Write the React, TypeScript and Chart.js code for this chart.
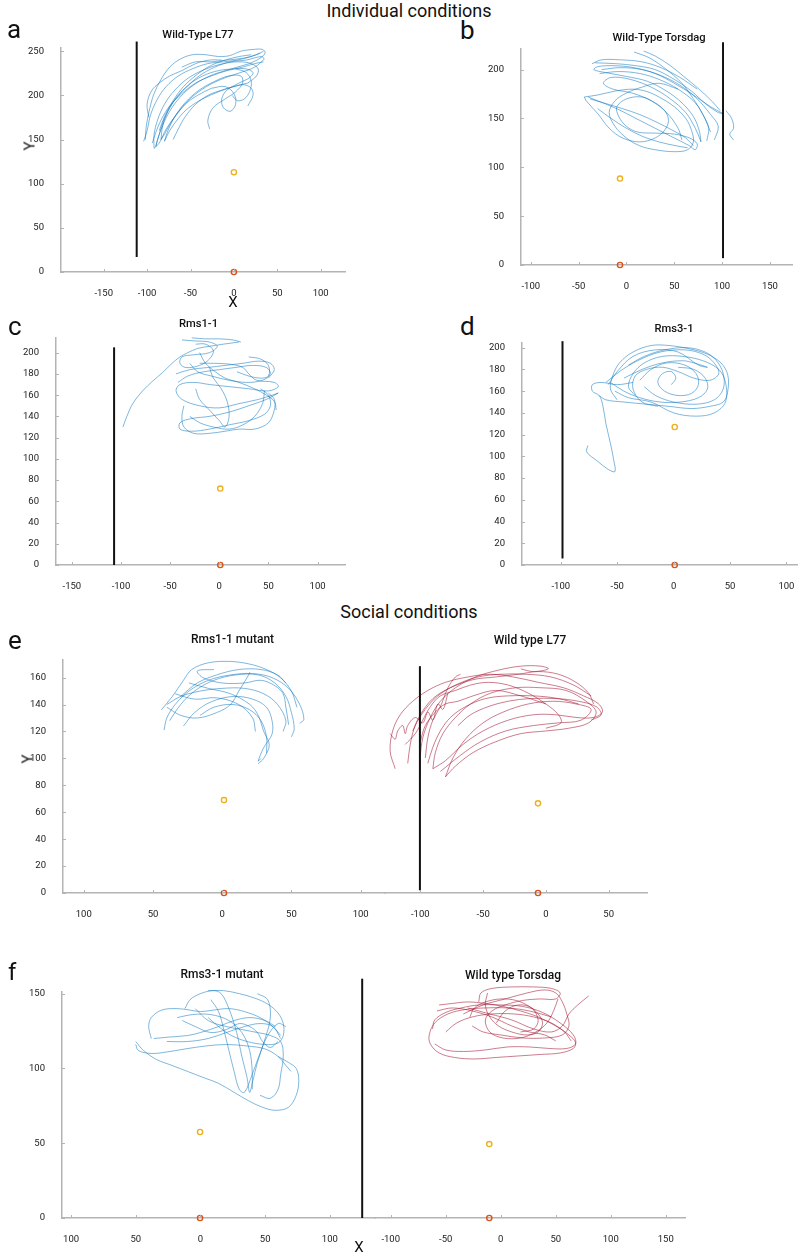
import React, { useEffect, useRef } from "react";
import { Chart, registerables } from "chart.js";

Chart.register(...registerables);

// ---------- tracked tip positions: flat [x, y, x, y, ...] lists, one per stroke ----------

const wtL77Tracks: number[][] = [
  [-102, 150, -101, 165, -97, 185, -92, 202, -84, 218, -74, 232, -62, 241, -48, 246, -32, 246, -18, 244, -5, 245, 8, 250, 22, 252, 33, 252, 36, 248, 30, 242, 18, 236],
  [18, 236, 4, 232, -10, 228, -28, 222, -46, 212, -62, 198, -74, 182, -82, 166, -88, 150, -90, 142],
  [-90, 142, -86, 156, -80, 174, -70, 192, -56, 208, -40, 222, -22, 232, -4, 238, 14, 240, 32, 244, 35, 241],
  [35, 241, 24, 232, 8, 226, -10, 220, -28, 212, -46, 200, -60, 186, -72, 170, -80, 156, -84, 150],
  [-84, 150, -82, 166, -76, 182, -66, 198, -52, 212, -36, 222, -18, 228, 0, 230, 14, 230, 22, 226, 18, 220, 6, 214, -8, 206, -14, 196, -12, 186, -4, 182, 2, 190, 0, 202, -10, 210, -26, 208],
  [-26, 208, -42, 200, -56, 190, -68, 176, -78, 162, -86, 146, -92, 140],
  [-92, 140, -92, 155, -88, 172, -80, 190, -68, 206, -52, 220, -32, 230, -12, 236, 6, 238, 20, 236, 28, 230, 26, 222, 16, 214],
  [16, 214, 0, 210, -18, 204, -36, 196, -52, 186, -64, 174, -74, 160, -80, 148],
  [-80, 148, -76, 160, -68, 176, -56, 192, -40, 206, -22, 216, -6, 222, 8, 222, 10, 214, 2, 204, -10, 196, -24, 186, -30, 172, -28, 162],
  [-98, 175, -100, 190, -95, 205, -86, 214, -74, 222, -60, 228, -44, 236, -28, 240, -14, 240],
  [-60, 232, -44, 238, -26, 238, -8, 240, 10, 242, 26, 246, 34, 250],
  [-104, 148, -100, 160, -96, 178, -88, 196, -78, 210, -64, 222, -48, 230, -30, 236, -12, 238, 4, 240, 20, 244, 30, 248],
  [-94, 146, -90, 158, -84, 172, -74, 188, -60, 202, -44, 214, -26, 222, -8, 228, 10, 232, 24, 236, 34, 238],
  [-86, 160, -80, 176, -70, 194, -58, 210, -42, 224, -26, 234, -10, 240, 6, 244, 20, 246],
  [2, 230, 14, 226, 20, 216, 18, 204, 12, 196, 4, 194, -2, 200],
  [-70, 150, -64, 162, -56, 176, -44, 190, -30, 200, -14, 206, 0, 210, 12, 212, 20, 208, 22, 200, 16, 188],
];

const wtTorsdagTracks: number[][] = [
  [-33, 207, -10, 206, 10, 204, 30, 200, 50, 190, 68, 178, 84, 164, 96, 156, 101, 155],
  [101, 155, 88, 162, 70, 174, 50, 186, 30, 196, 8, 202, -14, 204, -30, 203, -34, 200, -22, 197, 0, 193, 22, 188, 42, 178, 58, 166, 70, 152, 76, 138, 78, 126],
  [78, 126, 72, 140, 62, 156, 46, 170, 26, 182, 4, 190, -16, 192, -24, 186, -14, 180, 6, 176, 26, 168, 42, 156, 54, 140, 58, 128],
  [18, 219, 30, 214, 46, 204, 60, 193, 76, 180, 90, 167, 98, 158],
  [8, 218, 24, 212, 42, 200, 58, 186, 70, 170, 80, 154, 86, 140, 84, 127],
  [-40, 172, -30, 168, -10, 160, 10, 150, 30, 140, 50, 130, 66, 122, 72, 118, 74, 124, 66, 130, 50, 134, 30, 135, 12, 136, 0, 142, -8, 152, -10, 162, 0, 170, 16, 172, 30, 166, 40, 158, 44, 148, 40, 138, 30, 130, 14, 126, -4, 130, -18, 140, -30, 155, -42, 168, -44, 172],
  [-44, 172, -30, 174, -12, 178, 6, 180, 20, 178, 34, 172, 50, 162, 62, 150, 68, 138, 70, 126, 64, 118, 50, 116, 30, 118, 14, 122, 0, 130, -12, 142, -18, 156, -12, 168, 0, 176, 16, 182, 34, 186, 54, 180],
  [104, 158, 110, 150, 112, 140, 108, 134, 112, 128],
  [-28, 196, -8, 198, 14, 196, 34, 190, 54, 180, 72, 166, 82, 150, 88, 136],
  [-36, 206, -26, 210, -6, 210, 16, 208, 36, 202, 56, 192, 74, 180],
  [-26, 200, -6, 202, 16, 200, 36, 194, 56, 184, 74, 170, 88, 154, 96, 142, 92, 128],
  [-38, 170, -24, 166, -4, 160, 14, 154, 32, 146, 48, 138, 62, 130, 70, 122],
  [-30, 160, -16, 150, 0, 140, 16, 132, 34, 126, 52, 122, 64, 120],
];

const rms1Tracks: number[][] = [
  [-98, 130, -94, 140, -88, 152, -78, 164, -68, 173, -58, 181, -48, 190, -40, 196, -32, 200, -22, 204, -10, 206, 4, 208, 20, 210],
  [-38, 212, -24, 211, -10, 210, -2, 206, -10, 200, -26, 198, -38, 196, -40, 190, -34, 186, -20, 188, -10, 194, -6, 202, -14, 208, -24, 208],
  [-42, 172, -32, 178, -16, 182, 0, 184, 16, 186, 34, 188, 48, 186, 52, 180, 44, 174, 28, 172, 10, 174, -8, 178, -22, 182, -30, 190],
  [-20, 190, -6, 190, 12, 189, 24, 186, 30, 180, 38, 174, 56, 172, 60, 168, 50, 164, 30, 166, 10, 168, -10, 170, -26, 172, -40, 170, -44, 164, -38, 156, -20, 150, 0, 148, 20, 152, 40, 156, 54, 160, 60, 162],
  [60, 162, 48, 156, 30, 150, 10, 144, -10, 140, -28, 138, -40, 134, -40, 128, -28, 126, -10, 128, 10, 132, 30, 136, 46, 142, 52, 150, 50, 160, 42, 166],
  [-36, 150, -38, 140, -36, 130, -26, 124, -10, 124, 6, 126, 20, 128, 36, 128, 50, 134, 56, 146, 56, 156, 50, 162],
  [-24, 166, -20, 156, -10, 146, 0, 136, 6, 130, 10, 140, 8, 154, 2, 166, -6, 176, -10, 186],
  [-28, 214, -14, 213, 0, 213, 14, 212, 22, 210],
  [30, 196, 42, 194, 50, 188, 50, 178, 42, 176, 30, 178, 18, 182],
  [-44, 180, -30, 184, -12, 186, 6, 188, 24, 190, 40, 192, 52, 190, 56, 184, 50, 176],
  [-20, 200, -14, 190, -4, 182, 6, 176, 20, 172, 36, 166, 48, 160, 56, 154, 58, 146],
  [-30, 140, -20, 134, -6, 130, 10, 128, 24, 132, 36, 140, 44, 152, 46, 164],
];

const rms3Tracks: number[][] = [
  [-76, 110, -77, 104, -68, 96, -58, 88, -52, 86, -53, 96, -56, 112, -60, 130, -63, 148, -66, 156, -72, 160, -72, 166, -64, 168, -50, 166, -36, 168],
  [-66, 156, -60, 152, -44, 150, -24, 148, -4, 146, 16, 144, 32, 146, 44, 150, 48, 160, 48, 175, 42, 186, 30, 194, 14, 199, -4, 202, -20, 202, -36, 196, -48, 186, -54, 174, -56, 162, -50, 152],
  [-52, 160, -40, 154, -20, 150, 0, 140, 20, 137, 36, 140, 46, 150, 46, 168, 40, 180, 26, 188, 8, 192, -10, 192, -26, 186, -36, 176, -40, 164, -34, 156],
  [-30, 170, -20, 180, -6, 186, 10, 184, 20, 176, 22, 166, 16, 158, 4, 156, -8, 160, -14, 168, -10, 176, -2, 178, 2, 172, -2, 166],
  [-60, 168, -48, 178, -32, 188, -12, 196, 10, 198, 26, 194, 36, 186, 40, 176, 32, 170, 18, 172, 4, 178, -10, 182, -24, 180, -34, 174, -36, 162, -28, 150, -14, 146],
  [-44, 172, -28, 180, -10, 186, 8, 188, 18, 186, 30, 182, 22, 184, 4, 196, -16, 198, -36, 192, -50, 178, -58, 166],
  [-40, 184, -26, 192, -8, 198, 12, 200, 28, 196, 38, 188, 44, 176, 44, 162, 36, 152, 20, 148, 0, 150, -16, 156, -26, 164],
  [-56, 168, -44, 160, -30, 154, -12, 150, 6, 150, 22, 154, 30, 162, 28, 172, 18, 180, 4, 182],
];

const socialRms1Tracks: number[][] = [
  [-42, 121, -40, 130, -34, 140, -24, 150, -10, 158, 6, 162, 22, 163, 36, 160, 48, 152, 56, 140, 59, 129, 56, 126],
  [-44, 136, -36, 146, -28, 158, -22, 166, -10, 171, 6, 172, 20, 170, 32, 166, 42, 160, 50, 150, 54, 138],
  [-40, 140, -30, 146, -16, 150, 0, 152, 16, 152, 30, 148, 40, 140, 46, 128, 44, 120],
  [-28, 124, -20, 134, -8, 142, 8, 146, 22, 144, 32, 138, 36, 128, 36, 118, 30, 108, 26, 98, 28, 100],
  [-6, 166, -18, 165, -14, 160, 0, 156, 16, 156, 28, 158, 38, 154, 44, 148, 46, 138, 48, 125],
  [-40, 138, -30, 132, -18, 130, -4, 134, 6, 140, 12, 150, 18, 160, 20, 164],
  [-24, 156, -10, 152, 6, 148, 20, 140, 26, 132, 30, 120, 34, 110, 30, 100, 26, 96],
  [-34, 148, -20, 144, -4, 145, 12, 140, 22, 130, 24, 120],
  [-38, 128, -30, 140, -20, 150, -6, 158, 10, 162, 26, 162, 38, 156, 46, 146, 50, 134, 52, 122, 50, 116],
  [-30, 146, -18, 156, -4, 162, 12, 166, 28, 166, 40, 162, 46, 156],
  [-16, 132, -6, 138, 8, 140, 20, 136, 28, 128, 32, 116, 32, 104],
];

const socialL77Tracks: number[][] = [
  [-100, 85, -100, 100, -98, 115, -92, 130, -84, 142, -72, 152, -56, 160, -38, 165, -20, 168, -4, 168, 2, 166, -10, 164, -20, 166],
  [-120, 92, -124, 105, -122, 120, -116, 132, -106, 142, -94, 150, -80, 156, -62, 160, -44, 162, -26, 160, -6, 156, 14, 152, 30, 146, 42, 140, 45, 134, 38, 130, 24, 130, 8, 132, -10, 132, -30, 128, -50, 120, -66, 110, -80, 98, -90, 92],
  [-90, 92, -88, 104, -82, 118, -72, 130, -60, 140, -44, 148, -24, 152, -4, 152, 16, 150, 32, 142, 40, 134, 34, 126, 18, 122, 0, 120, -20, 118, -40, 112, -58, 104, -72, 94, -80, 86],
  [-80, 86, -74, 100, -64, 114, -50, 126, -34, 134, -14, 140, 6, 142, 24, 140, 36, 136, 28, 128, 10, 126, -10, 124, -32, 120, -52, 112, -68, 102, -84, 90],
  [-106, 120, -100, 132, -90, 144, -76, 152, -58, 158, -40, 160, -22, 162, -6, 164, 10, 162, 24, 156, 34, 148, 38, 140],
  [-112, 110, -104, 118, -98, 128, -92, 138, -84, 146, -72, 150, -60, 154, -46, 156, -30, 154, -14, 148, 0, 140, 10, 132, 12, 126, 0, 122],
  [-124, 118, -120, 114, -118, 120, -114, 124, -112, 118, -110, 124, -104, 130, -98, 126, -94, 134, -90, 128, -86, 140, -82, 136, -78, 148],
  [-96, 100, -94, 115, -90, 128, -84, 138, -78, 152, -72, 160, -68, 162],
  [-100, 112, -96, 124, -88, 134, -80, 140, -70, 142, -58, 146, -40, 150, -20, 146, 0, 140],
  [-110, 96, -108, 110, -104, 124, -96, 136, -86, 146, -72, 154, -54, 160, -36, 162, -16, 162, 4, 160, 22, 154, 36, 146],
  [-94, 96, -90, 108, -84, 120, -76, 130, -64, 138, -48, 144, -30, 146, -10, 146, 10, 144, 26, 140],
  [-70, 124, -60, 132, -46, 138, -30, 142, -12, 144, 8, 144, 26, 142, 40, 138, 44, 132, 36, 128],
];

const socialRms3Tracks: number[][] = [
  [6, 152, 18, 152, 30, 150, 42, 147, 52, 143, 60, 137, 64, 130, 64, 122, 60, 117, 50, 116, 36, 118, 24, 122, 14, 128, 6, 134],
  [-50, 116, -48, 112, -38, 110, -26, 111, -12, 113, 4, 115, 20, 116, 36, 115, 50, 113, 60, 108, 66, 102, 70, 98],
  [-50, 118, -44, 112, -34, 106, -22, 102, -10, 98, 2, 94, 14, 90, 26, 84, 38, 78, 48, 74, 58, 72, 68, 74, 74, 82, 76, 92, 74, 100, 68, 104, 60, 108],
  [-38, 120, -40, 128, -38, 134, -30, 139, -18, 140, -8, 139, 0, 138, 10, 139, 22, 140, 34, 138, 46, 134, 56, 128, 62, 122],
  [-36, 120, -24, 121, -10, 122, 0, 124, 14, 128, 26, 132, 38, 134, 50, 132, 58, 128],
  [-12, 140, -8, 146, 0, 150, 10, 152, 16, 150, 22, 140, 28, 124, 32, 108, 36, 94, 38, 84, 40, 90, 44, 104, 50, 120, 54, 134, 52, 146, 44, 150],
  [8, 146, 14, 138, 18, 126, 22, 112, 26, 98, 30, 86, 34, 84, 40, 96, 46, 110, 52, 122, 60, 130, 66, 128],
  [-14, 132, -4, 128, 8, 124, 20, 126, 30, 130, 38, 128, 44, 124, 48, 118, 54, 114, 60, 118],
  [-4, 140, 6, 132, 20, 128, 32, 126, 44, 124, 54, 122, 62, 118, 64, 108, 62, 96, 60, 86, 54, 80, 46, 82],
  [-26, 118, -10, 118, 6, 120, 20, 124, 34, 128, 46, 130, 56, 128, 62, 120],
  [-18, 134, -6, 136, 8, 136, 22, 132, 32, 124, 38, 112, 40, 98, 40, 86],
];

const socialTorsdagTracks: number[][] = [
  [-56, 142, -44, 143, -30, 144, -14, 143, 2, 141, 18, 138, 34, 134, 50, 128, 62, 122, 68, 117, 66, 113, 54, 110, 36, 109, 16, 108, -4, 107, -24, 106, -42, 107, -56, 110, -64, 116, -65, 122, -60, 130, -48, 136, -32, 139, -14, 140, 6, 140, 26, 138, 46, 134],
  [-62, 126, -60, 132, -50, 137, -36, 140, -20, 142, 0, 142, 20, 141, 38, 137, 54, 130, 66, 122, 68, 116, 60, 113, 44, 113, 26, 114, 6, 114, -14, 112, -34, 111, -50, 112, -60, 116],
  [-20, 144, -18, 150, -8, 153, 10, 154, 30, 154, 46, 153, 54, 150, 50, 146, 36, 146, 20, 145, 4, 142, -8, 138, -14, 132, -10, 124, 2, 120, 18, 120, 32, 124, 42, 130, 48, 138, 52, 146],
  [-28, 134, -24, 140, -14, 144, 0, 146, 14, 145, 26, 141, 34, 136, 38, 130, 34, 124, 24, 122, 10, 124, -2, 128, -10, 134, -14, 142, -12, 150],
  [-30, 140, -10, 136, 10, 132, 30, 126, 46, 124, 56, 128, 62, 136, 70, 142, 80, 148],
  [-34, 136, -16, 142, 4, 146, 24, 150, 40, 152, 50, 150, 56, 144, 60, 136, 62, 128, 56, 122, 40, 120, 20, 120, 0, 122, -16, 124, -26, 128],
  [-58, 138, -44, 140, -26, 138, -8, 134, 10, 128, 26, 124, 40, 122, 50, 118],
  [-50, 124, -40, 130, -26, 134, -8, 136, 12, 136, 30, 134, 46, 130, 58, 124, 64, 118],
  [-4, 130, 4, 138, 16, 142, 28, 140, 34, 132, 30, 126, 18, 124],
];

// ---------- support pole: [x, yBottom, yTop] ----------
const poleA = [-112, 17, 261];
const poleB = [101, 7, 228];
const poleC = [-107, 0, 205];
const poleD = [-98.5, 6, 206];
const poleE = [-100.3, 2, 168];
const poleF = [125, 0, 160];

// ---------- reference points: [x, y] ----------
const upperMarkA = [0, 113];
const baseMarkA = [0, 0];
const upperMarkB = [-6.7, 88.5];
const baseMarkB = [-6.7, 0];
const upperMarkC = [1, 72];
const baseMarkC = [1, 0];
const upperMarkD = [1, 127];
const baseMarkD = [1, 0];
const upperMarkE1 = [1.3, 69];
const baseMarkE1 = [1.3, 0];
const upperMarkE2 = [-6.3, 66.4];
const baseMarkE2 = [-6.3, 0];
const upperMarkF1 = [-0.3, 57.5];
const baseMarkF1 = [-0.3, 0];
const upperMarkF2 = [-10.4, 49.3];
const baseMarkF2 = [-10.4, 0];

// ---------- axis ranges and ticks ----------
const xRangeA = [-199.2, 128];
const yRangeA = [0, 254];
const xTicksA = [-150, -100, -50, 0, 50, 100];
const yTicksA = [0, 50, 100, 150, 200, 250];

const xRangeB = [-110.2, 173.1];
const yRangeB = [0, 221.4];
const xTicksB = [-100, -50, 0, 50, 100, 150];
const yTicksB = [0, 50, 100, 150, 200];

const xRangeC = [-166.1, 127.9];
const yRangeC = [0, 214.1];
const xTicksC = [-150, -100, -50, 0, 50, 100];
const yTicksC = [0, 20, 40, 60, 80, 100, 120, 140, 160, 180, 200];

const xRangeD = [-134.4, 109.4];
const yRangeD = [0, 204.6];
const xTicksD = [-100, -50, 0, 50, 100];
const yTicksD = [0, 20, 40, 60, 80, 100, 120, 140, 160, 180, 200];

const xRangeE1 = [-115, 117.6];
const xRangeE2 = [-128.1, 80.5];
const yRangeE = [0, 173.3];
const xTicksE1 = [-100, -50, 0, 50, 100];
const xTicksE2 = [-100, -50, 0, 50];
const yTicksE = [0, 20, 40, 60, 80, 100, 120, 140, 160];

const xRangeF1 = [-107, 134.9];
const xRangeF2 = [-114.3, 167.5];
const yRangeF = [0, 151.3];
const xTicksF1 = [-100, -50, 0, 50, 100];
const xTicksF2 = [-100, -50, 0, 50, 100, 150];
const yTicksF = [0, 50, 100, 150];

// ---------- styling ----------
const BLUE = "rgba(0, 114, 189, 0.5)";
const RED = "rgba(162, 20, 47, 0.55)";
const AXIS = "#b4b4b4";
const YELLOW = "#EDB120";
const ORANGE = "#D95319";
const FONT = "Roboto, 'Noto Sans', sans-serif";

const PAD_L = 45;
const PAD_T = 14;
const PAD_R = 14;
const AXIS_H = 30;

type PlotSpec = {
  key: string;
  box: [number, number, number, number]; // plot area: left, top, right, bottom (page px)
  xRange: number[];
  yRange: number[];
  xTicks: number[];
  yTicks: number[] | null;
  absLabels?: boolean;
  tracks: number[][];
  color: string;
  pole?: number[];
  upper: number[];
  base: number[];
};

const plots: PlotSpec[] = [
  { key: "a", box: [61, 47, 345, 272], xRange: xRangeA, yRange: yRangeA, xTicks: xTicksA, yTicks: yTicksA, tracks: wtL77Tracks, color: BLUE, pole: poleA, upper: upperMarkA, base: baseMarkA },
  { key: "b", box: [521, 48, 792, 265], xRange: xRangeB, yRange: yRangeB, xTicks: xTicksB, yTicks: yTicksB, tracks: wtTorsdagTracks, color: BLUE, pole: poleB, upper: upperMarkB, base: baseMarkB },
  { key: "c", box: [56, 337, 345, 565], xRange: xRangeC, yRange: yRangeC, xTicks: xTicksC, yTicks: yTicksC, tracks: rms1Tracks, color: BLUE, pole: poleC, upper: upperMarkC, base: baseMarkC },
  { key: "d", box: [522, 342, 797, 565], xRange: xRangeD, yRange: yRangeD, xTicks: xTicksD, yTicks: yTicksD, tracks: rms3Tracks, color: BLUE, pole: poleD, upper: upperMarkD, base: baseMarkD },
  { key: "e1", box: [63, 659, 385, 893], xRange: xRangeE1, yRange: yRangeE, xTicks: xTicksE1, yTicks: yTicksE, absLabels: true, tracks: socialRms1Tracks, color: BLUE, upper: upperMarkE1, base: baseMarkE1 },
  { key: "e2", box: [385, 659, 647, 893], xRange: xRangeE2, yRange: yRangeE, xTicks: xTicksE2, yTicks: null, tracks: socialL77Tracks, color: RED, pole: poleE, upper: upperMarkE2, base: baseMarkE2 },
  { key: "f1", box: [62, 991, 375, 1218], xRange: xRangeF1, yRange: yRangeF, xTicks: xTicksF1, yTicks: yTicksF, absLabels: true, tracks: socialRms3Tracks, color: BLUE, pole: poleF, upper: upperMarkF1, base: baseMarkF1 },
  { key: "f2", box: [375, 991, 685, 1218], xRange: xRangeF2, yRange: yRangeF, xTicks: xTicksF2, yTicks: null, tracks: socialTorsdagTracks, color: RED, upper: upperMarkF2, base: baseMarkF2 },
];

const toPoints = (flat: number[]) => {
  const pts: { x: number; y: number }[] = [];
  for (let i = 0; i + 1 < flat.length; i += 2) pts.push({ x: flat[i], y: flat[i + 1] });
  return pts;
};

// Short tick marks drawn on the inner side of the axes.
const innerTicks = {
  id: "innerTicks",
  afterDraw(chart: any) {
    const { ctx, chartArea } = chart;
    const xs = chart.scales.x;
    const ys = chart.scales.y;
    ctx.save();
    ctx.strokeStyle = AXIS;
    ctx.lineWidth = 1;
    ctx.beginPath();
    xs.ticks.forEach((t: any) => {
      const px = Math.round(xs.getPixelForValue(t.value)) + 0.5;
      ctx.moveTo(px, chartArea.bottom);
      ctx.lineTo(px, chartArea.bottom - 3);
    });
    if (ys.options.display) {
      ys.ticks.forEach((t: any) => {
        const py = Math.round(ys.getPixelForValue(t.value)) + 0.5;
        ctx.moveTo(chartArea.left, py);
        ctx.lineTo(chartArea.left + 3, py);
      });
    }
    ctx.stroke();
    ctx.restore();
  },
};

function TrackPlot({ spec }: { spec: PlotSpec }) {
  const ref = useRef<HTMLCanvasElement | null>(null);
  const [l, t, r, b] = spec.box;
  const width = r - l + PAD_L + PAD_R;
  const height = b - t + PAD_T + AXIS_H;

  useEffect(() => {
    if (!ref.current) return;
    const datasets: any[] = spec.tracks.map((flat) => ({
      data: toPoints(flat),
      showLine: true,
      borderColor: spec.color,
      borderWidth: 1,
      pointRadius: 0,
      tension: 0.35,
      clip: false,
      order: 3,
    }));
    if (spec.pole) {
      datasets.push({
        data: [
          { x: spec.pole[0], y: spec.pole[1] },
          { x: spec.pole[0], y: spec.pole[2] },
        ],
        showLine: true,
        borderColor: "#111",
        borderWidth: 2,
        pointRadius: 0,
        tension: 0,
        clip: false,
        order: 2,
      });
    }
    datasets.push({
      data: [{ x: spec.upper[0], y: spec.upper[1] }],
      showLine: false,
      pointRadius: 2.6,
      pointBorderWidth: 1.4,
      pointBorderColor: YELLOW,
      pointBackgroundColor: "rgba(255,255,255,0)",
      clip: false,
      order: 1,
    });
    datasets.push({
      data: [{ x: spec.base[0], y: spec.base[1] }],
      showLine: false,
      pointRadius: 2.6,
      pointBorderWidth: 1.4,
      pointBorderColor: ORANGE,
      pointBackgroundColor: "rgba(255,255,255,0)",
      clip: false,
      order: 0,
    });

    const tickFont = { family: FONT, size: 9.5 };
    const hasY = !!spec.yTicks;
    const chart = new Chart(ref.current, {
      type: "scatter",
      data: { datasets },
      plugins: [innerTicks],
      options: {
        responsive: false,
        animation: false,
        events: [],
        devicePixelRatio: 1,
        layout: { padding: { left: hasY ? 0 : PAD_L, top: PAD_T, right: PAD_R, bottom: 0 } },
        plugins: { legend: { display: false }, tooltip: { enabled: false }, title: { display: false } },
        scales: {
          x: {
            type: "linear",
            min: spec.xRange[0],
            max: spec.xRange[1],
            afterBuildTicks: (s: any) => {
              s.ticks = spec.xTicks.map((v) => ({ value: v }));
            },
            afterFit: (s: any) => {
              s.height = AXIS_H;
            },
            grid: { display: false },
            border: { display: true, color: AXIS, width: 1.5 },
            ticks: {
              autoSkip: false,
              maxRotation: 0,
              padding: 8,
              color: "#222",
              font: tickFont,
              callback: (v: any) => String(spec.absLabels ? Math.abs(v) : v),
            },
          },
          y: {
            type: "linear",
            display: hasY,
            min: spec.yRange[0],
            max: spec.yRange[1],
            afterBuildTicks: (s: any) => {
              s.ticks = (spec.yTicks || []).map((v) => ({ value: v }));
            },
            afterFit: (s: any) => {
              s.width = hasY ? PAD_L : 0;
            },
            grid: { display: false },
            border: { display: hasY, color: AXIS, width: 1.5 },
            ticks: { autoSkip: false, padding: 9, color: "#222", font: tickFont },
          },
        },
      } as any,
    });
    return () => chart.destroy();
  }, [spec]);

  return (
    <canvas
      ref={ref}
      width={width}
      height={height}
      style={{ position: "absolute", left: l - PAD_L, top: t - PAD_T, width, height }}
    />
  );
}

type Label = {
  text: string;
  x: number;
  baseline: number;
  size: number;
  weight?: number;
  center?: boolean;
};

const labels: Label[] = [
  { text: "Individual conditions", x: 409, baseline: 17, size: 18, center: true },
  { text: "Social conditions", x: 409, baseline: 618, size: 18, center: true },
  { text: "a", x: 7, baseline: 38, size: 26 },
  { text: "b", x: 460, baseline: 39, size: 26 },
  { text: "c", x: 8, baseline: 335, size: 26 },
  { text: "d", x: 460, baseline: 335, size: 26 },
  { text: "e", x: 8, baseline: 649, size: 26 },
  { text: "f", x: 8, baseline: 980, size: 24 },
  { text: "Wild-Type L77", x: 198, baseline: 38, size: 11.2, weight: 500, center: true },
  { text: "Wild-Type Torsdag", x: 659, baseline: 41.5, size: 11.2, weight: 500, center: true },
  { text: "Rms1-1", x: 198.5, baseline: 327, size: 11.2, weight: 500, center: true },
  { text: "Rms3-1", x: 674, baseline: 332.5, size: 11.2, weight: 500, center: true },
  { text: "Rms1-1 mutant", x: 232.5, baseline: 643, size: 12, weight: 500, center: true },
  { text: "Wild type L77", x: 530, baseline: 644, size: 12, weight: 500, center: true },
  { text: "Rms3-1 mutant", x: 222, baseline: 978, size: 12, weight: 500, center: true },
  { text: "Wild type Torsdag", x: 513, baseline: 979, size: 12, weight: 500, center: true },
  { text: "X", x: 233, baseline: 308, size: 15, center: true },
  { text: "X", x: 359, baseline: 1253, size: 15, center: true },
];

const axisYLabels = [
  { text: "Y", x: 30, y: 146 },
  { text: "Y", x: 27.5, y: 759 },
];

export default function App() {
  return (
    <div
      style={{
        position: "absolute",
        left: 0,
        top: 0,
        width: 800,
        height: 1257,
        background: "#fff",
        fontFamily: FONT,
        color: "#111",
        overflow: "hidden",
      }}
    >
      {plots.map((p) => (
        <TrackPlot key={p.key} spec={p} />
      ))}
      {labels.map((lb, i) => (
        <div
          key={"lb" + i}
          style={{
            position: "absolute",
            left: lb.x,
            top: lb.baseline - 0.842 * lb.size,
            fontSize: lb.size,
            lineHeight: lb.size + "px",
            fontWeight: lb.weight || 400,
            whiteSpace: "nowrap",
            transform: lb.center ? "translateX(-50%)" : undefined,
          }}
        >
          {lb.text}
        </div>
      ))}
      {axisYLabels.map((lb, i) => (
        <div
          key={"ay" + i}
          style={{
            position: "absolute",
            left: lb.x,
            top: lb.y,
            fontSize: 15,
            lineHeight: "15px",
            whiteSpace: "nowrap",
            transform: "translate(-50%, -50%) rotate(-90deg)",
          }}
        >
          {lb.text}
        </div>
      ))}
    </div>
  );
}
